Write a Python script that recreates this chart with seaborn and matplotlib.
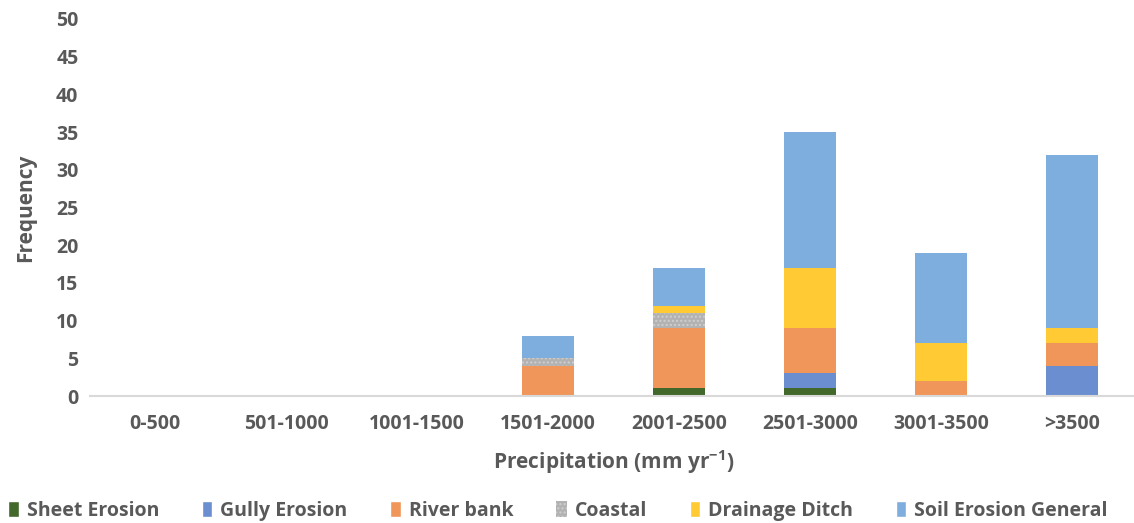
import matplotlib
matplotlib.use("Agg")
import matplotlib.pyplot as plt
import seaborn as sns
import pandas as pd
import numpy as np
from matplotlib.patches import Patch

categories = ["0-500", "501-1000", "1001-1500", "1501-2000", "2001-2500", "2501-3000", "3001-3500", ">3500"]
sheet_erosion = [0, 0, 0, 0, 1, 1, 0, 0]
gully_erosion = [0, 0, 0, 0, 0, 2, 0, 4]
river_bank = [0, 0, 0, 4, 8, 6, 2, 3]
coastal = [0, 0, 0, 1, 2, 0, 0, 0]
drainage_ditch = [0, 0, 0, 0, 1, 8, 5, 2]
soil_erosion_general = [0, 0, 0, 3, 5, 18, 12, 23]

series_names = ["Sheet Erosion", "Gully Erosion", "River bank", "Coastal", "Drainage Ditch", "Soil Erosion General"]
series_vals = [sheet_erosion, gully_erosion, river_bank, coastal, drainage_ditch, soil_erosion_general]
colors = ["#43682B", "#6A8ECF", "#F0965A", "#B2B2B2", "#FFCA33", "#7EAEDD"]

sns.set_theme(style="white")
plt.rcParams['font.family'] = ['Open Sans', 'DejaVu Sans']
plt.rcParams['mathtext.fontset'] = 'custom'
plt.rcParams['mathtext.rm'] = 'Open Sans:bold'
plt.rcParams['mathtext.bf'] = 'Open Sans:bold'
plt.rcParams['mathtext.it'] = 'Open Sans:bold'
plt.rcParams['hatch.color'] = "#CFCFCF"

fig = plt.figure(figsize=(11.34, 5.23), dpi=100)
ax = fig.add_axes([89.5 / 1134, 127 / 523, 1048 / 1134, 377 / 523])

bottom = np.zeros(len(categories))
for name, vals, col in zip(series_names, series_vals, colors):
    df = pd.DataFrame({"cat": categories, "val": vals})
    if name == "Coastal":
        kw = dict(hatch="....", edgecolor="#CFCFCF", linewidth=0)
    else:
        kw = dict(edgecolor=col, linewidth=0)
    sns.barplot(data=df, x="cat", y="val", color=col, ax=ax, width=0.4,
                bottom=bottom.copy(), saturation=1, order=categories, **kw)
    bottom += np.array(vals)

ax.set_xlim(-0.5, len(categories) - 0.5)
ax.set_ylim(0, 50)
ax.set_yticks(range(0, 51, 5))
for s in ["top", "right", "left"]:
    ax.spines[s].set_visible(False)
ax.spines["bottom"].set_color("#D9D9D9")
ax.spines["bottom"].set_linewidth(1.5)
ax.tick_params(axis="both", length=0, labelsize=14, labelcolor="#595959", pad=8)
ax.tick_params(axis="x", pad=13)
for lab in ax.get_xticklabels() + ax.get_yticklabels():
    lab.set_fontweight("bold")
ax.set_xlabel(r"Precipitation (mm yr$^{-1}$)", fontsize=15, fontweight="bold", color="#595959", labelpad=10)
ax.set_ylabel("Frequency", fontsize=15, fontweight="bold", color="#595959", labelpad=14)

handles = []
for name, col in zip(series_names, colors):
    if name == "Coastal":
        handles.append(Patch(facecolor=col, hatch="....", edgecolor="#CFCFCF", linewidth=0, label=name))
    else:
        handles.append(Patch(facecolor=col, label=name))
leg = fig.legend(handles=handles, loc="center", bbox_to_anchor=(0.492, 12 / 523), ncol=6,
                 frameon=False, handlelength=0.55, handleheight=0.9, handletextpad=0.4,
                 columnspacing=2.2, prop={"size": 14, "weight": "bold"})
for t in leg.get_texts():
    t.set_color("#595959")

fig.savefig("out.png", dpi=100)
